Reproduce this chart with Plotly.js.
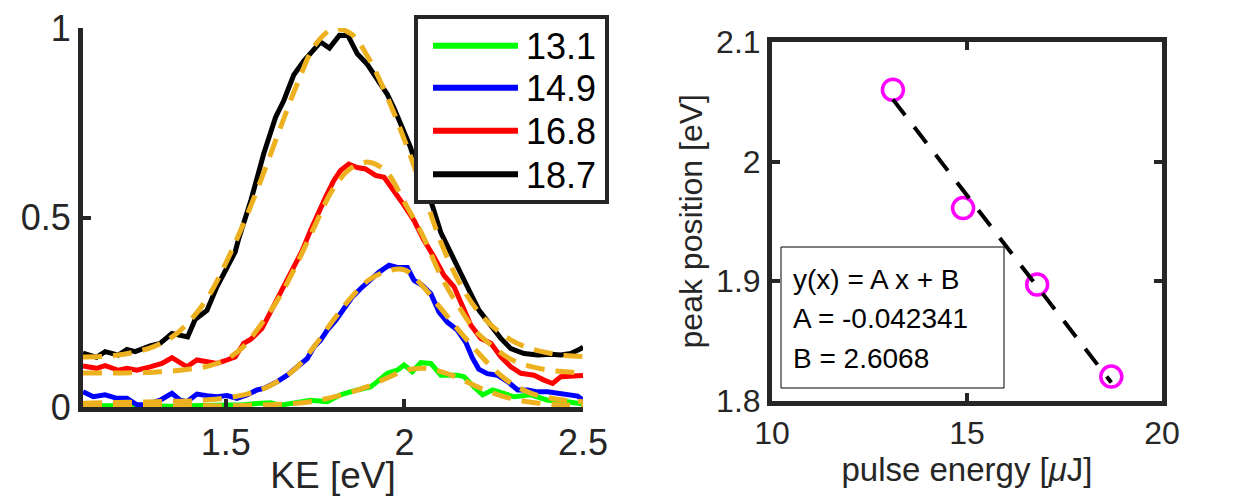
<!DOCTYPE html>
<html>
<head>
<meta charset="utf-8">
<script src="https://cdn.plot.ly/plotly-3.0.1.min.js"></script>
<style>html,body{margin:0;padding:0;background:#fff;}#chart{width:1247px;height:496px;}</style>
</head>
<body>
<div id="chart"></div>
<script>
// ---------------- data ----------------
const seriesLabels = ['13.1', '14.9', '16.8', '18.7'];

const keGreen = [1.100,1.150,1.200,1.250,1.300,1.350,1.400,1.450,1.500,1.550,1.597,1.625,1.653,1.690,1.737,1.784,1.821,1.868,1.905,1.924,1.952,1.980,1.999,2.022,2.046,2.074,2.102,2.148,2.167,2.195,2.219,2.247,2.279,2.307,2.354,2.401,2.457,2.485,2.500];
const sigGreen = [0.004,0.003,0.003,0.002,0.003,0.002,0.003,0.003,0.004,0.006,0.010,0.011,0.005,0.010,0.018,0.014,0.032,0.045,0.053,0.067,0.089,0.097,0.111,0.093,0.117,0.115,0.084,0.084,0.080,0.053,0.032,0.045,0.036,0.027,0.032,0.018,0.014,0.010,0.008];

const keBlue = [1.100,1.129,1.162,1.195,1.223,1.251,1.279,1.316,1.349,1.372,1.391,1.419,1.447,1.475,1.503,1.531,1.559,1.587,1.606,1.644,1.672,1.700,1.728,1.747,1.765,1.784,1.808,1.831,1.854,1.877,1.901,1.929,1.957,1.980,2.008,2.027,2.050,2.074,2.097,2.120,2.148,2.172,2.190,2.208,2.232,2.260,2.289,2.317,2.345,2.373,2.401,2.429,2.457,2.485,2.500];
const sigBlue = [0.040,0.027,0.032,0.023,0.023,0.006,0.006,0.018,0.036,0.018,0.014,0.034,0.030,0.027,0.030,0.023,0.032,0.045,0.049,0.067,0.084,0.106,0.128,0.159,0.176,0.203,0.229,0.260,0.290,0.312,0.334,0.356,0.374,0.368,0.368,0.334,0.321,0.299,0.250,0.224,0.203,0.170,0.130,0.100,0.088,0.084,0.067,0.045,0.045,0.040,0.040,0.036,0.032,0.029,0.018];

const keRed = [1.100,1.138,1.162,1.199,1.223,1.251,1.288,1.321,1.349,1.372,1.391,1.419,1.447,1.475,1.503,1.526,1.550,1.569,1.601,1.634,1.662,1.690,1.714,1.737,1.760,1.779,1.802,1.821,1.844,1.868,1.891,1.919,1.943,1.971,1.999,2.027,2.055,2.083,2.111,2.139,2.162,2.186,2.214,2.242,2.270,2.298,2.326,2.363,2.391,2.415,2.438,2.466,2.494,2.500];
const sigRed = [0.108,0.102,0.109,0.097,0.102,0.097,0.106,0.115,0.130,0.115,0.106,0.124,0.119,0.115,0.124,0.132,0.168,0.178,0.207,0.268,0.317,0.369,0.413,0.466,0.518,0.553,0.597,0.624,0.641,0.632,0.628,0.611,0.606,0.571,0.532,0.492,0.439,0.396,0.347,0.317,0.264,0.216,0.181,0.168,0.132,0.106,0.089,0.084,0.071,0.062,0.080,0.080,0.082,0.083];

const keBlack = [1.100,1.138,1.162,1.199,1.223,1.246,1.288,1.316,1.349,1.372,1.393,1.414,1.447,1.475,1.503,1.526,1.536,1.550,1.570,1.606,1.639,1.662,1.690,1.718,1.742,1.765,1.790,1.818,1.842,1.868,1.896,1.924,1.952,1.971,1.999,2.017,2.032,2.054,2.078,2.102,2.130,2.158,2.181,2.209,2.242,2.270,2.298,2.335,2.373,2.410,2.438,2.466,2.494,2.500];
const sigBlack = [0.142,0.131,0.146,0.137,0.152,0.146,0.161,0.168,0.194,0.191,0.185,0.231,0.255,0.317,0.369,0.409,0.444,0.483,0.545,0.668,0.764,0.808,0.876,0.913,0.939,0.963,0.947,0.981,0.980,0.932,0.904,0.862,0.825,0.788,0.729,0.685,0.641,0.588,0.532,0.460,0.404,0.352,0.308,0.255,0.216,0.181,0.154,0.141,0.137,0.139,0.137,0.141,0.154,0.158];

// fitted curves (dashed), read at a common KE grid
const keFit = [1.10,1.15,1.20,1.25,1.30,1.35,1.40,1.45,1.50,1.55,1.60,1.65,1.70,1.75,1.80,1.85,1.90,1.95,2.00,2.05,2.10,2.15,2.20,2.25,2.30,2.35,2.40,2.45,2.50];
const fitGreen = [0.003,0.003,0.003,0.003,0.003,0.003,0.003,0.003,0.003,0.004,0.005,0.007,0.010,0.016,0.026,0.039,0.055,0.076,0.096,0.102,0.094,0.077,0.055,0.036,0.022,0.013,0.008,0.005,0.004];
const fitBlue = [0.010,0.011,0.012,0.013,0.014,0.015,0.016,0.019,0.024,0.032,0.046,0.070,0.106,0.163,0.228,0.288,0.335,0.358,0.362,0.320,0.262,0.205,0.150,0.100,0.062,0.038,0.025,0.018,0.014];
const fitRed = [0.090,0.090,0.090,0.091,0.092,0.095,0.100,0.108,0.125,0.160,0.220,0.290,0.380,0.480,0.575,0.630,0.646,0.620,0.540,0.455,0.350,0.268,0.200,0.158,0.125,0.108,0.098,0.093,0.090];
const fitBlack = [0.132,0.133,0.137,0.146,0.160,0.185,0.228,0.290,0.380,0.485,0.603,0.730,0.853,0.955,0.997,0.985,0.920,0.822,0.705,0.575,0.440,0.335,0.260,0.210,0.176,0.155,0.143,0.136,0.133];

// right panel
const pulseEnergy = [13.1, 14.9, 16.8, 18.7];
const peakPosition = [2.060, 1.961, 1.897, 1.820];
const lineFitX = [13.1, 18.7];
const lineFitY = [2.052, 1.815];
const fitText = ['y(x) = A x + B', 'A = -0.042341', 'B = 2.6068'];

// ---------------- styling ----------------
const W = 1247, H = 496;
const px = v => v / W;
const py = v => 1 - v / H;
const FONT = 'Liberation Sans, Arial, Helvetica, sans-serif';
const AX = '#262626';
const GOLD = '#EDB120';
const seriesColors = ['#00FF00', '#0000FF', '#FF0000', '#000000'];

const dataSets = [[keGreen, sigGreen], [keBlue, sigBlue], [keRed, sigRed], [keBlack, sigBlack]];
const fitSets = [fitGreen, fitBlue, fitRed, fitBlack];

const traces = [];
dataSets.forEach((d, i) => {
  traces.push({x: d[0], y: d[1], type: 'scatter', mode: 'lines', name: seriesLabels[i],
    line: {color: seriesColors[i], width: 5}, xaxis: 'x', yaxis: 'y', showlegend: false, hoverinfo: 'skip'});
});
fitSets.forEach((f, i) => {
  traces.push({x: keFit, y: f, type: 'scatter', mode: 'lines', name: 'fit ' + seriesLabels[i],
    line: {color: GOLD, width: 5, dash: '19px,11px', shape: 'spline', smoothing: 1}, xaxis: 'x', yaxis: 'y', showlegend: false, hoverinfo: 'skip'});
});
traces.push({x: pulseEnergy, y: peakPosition, type: 'scatter', mode: 'markers', name: 'peak',
  marker: {symbol: 'circle-open', size: 21, color: '#FF00FF', line: {color: '#FF00FF', width: 3.5}},
  xaxis: 'x2', yaxis: 'y2', showlegend: false, cliponaxis: false});
traces.push({x: lineFitX, y: lineFitY, type: 'scatter', mode: 'lines', name: 'linear fit',
  line: {color: '#000000', width: 4, dash: '20px,15px'}, xaxis: 'x2', yaxis: 'y2', showlegend: false});

// legend drawn as shapes + text
const shapes = [];
const annotations = [];
shapes.push({type: 'rect', xref: 'paper', yref: 'paper', x0: px(416), x1: px(607), y0: py(202), y1: py(17),
  line: {color: AX, width: 4}, fillcolor: '#ffffff', layer: 'above'});
const legRows = [45.7, 87.7, 130.7, 174.3];
seriesLabels.forEach((lab, i) => {
  shapes.push({type: 'line', xref: 'paper', yref: 'paper', x0: px(433), x1: px(518), y0: py(legRows[i]), y1: py(legRows[i]),
    line: {color: seriesColors[i], width: 6}, layer: 'above'});
  annotations.push({xref: 'paper', yref: 'paper', x: px(524), y: py(legRows[i] + 1), xanchor: 'left', yanchor: 'middle',
    text: lab, showarrow: false, font: {family: FONT, size: 36, color: '#000000'}});
});
// fit text box
shapes.push({type: 'rect', xref: 'paper', yref: 'paper', x0: px(781), x1: px(1004), y0: py(388), y1: py(247),
  line: {color: '#000000', width: 1}, fillcolor: '#ffffff', layer: 'above'});
const boxRows = [279, 318, 358];
fitText.forEach((t, i) => {
  annotations.push({xref: 'paper', yref: 'paper', x: px(791), y: py(boxRows[i]), xanchor: 'left', yanchor: 'middle',
    text: t, showarrow: false, font: {family: FONT, size: 28, color: '#000000'}});
});

const axBase = {showgrid: false, zeroline: false, showline: true, linecolor: AX, linewidth: 5,
  ticks: 'inside', ticklen: 8, tickwidth: 4, tickcolor: AX};

const layout = {
  width: W, height: H,
  margin: {l: 0, r: 0, t: 0, b: 0},
  paper_bgcolor: '#ffffff', plot_bgcolor: '#ffffff',
  font: {family: FONT, color: AX},
  showlegend: false,
  xaxis: Object.assign({}, axBase, {domain: [px(83), px(583)], range: [1.1, 2.5], anchor: 'y',
    tickvals: [1.5, 2, 2.5], ticktext: ['1.5', '2', '2.5'], tickfont: {size: 36, color: AX},
    title: {text: 'KE [eV]', font: {size: 37, color: AX}, standoff: 4}}),
  yaxis: Object.assign({}, axBase, {domain: [py(407), py(28)], range: [0, 1], anchor: 'x',
    tickvals: [0, 0.5, 1], ticktext: ['0', '0.5', '1'], tickfont: {size: 36, color: AX}}),
  xaxis2: Object.assign({}, axBase, {domain: [px(772), px(1162)], range: [10, 20], anchor: 'y2', mirror: 'ticks',
    tickvals: [10, 15, 20], ticktext: ['10', '15', '20'], tickfont: {size: 32, color: AX},
    title: {text: 'pulse energy [<i>μ</i>J]', font: {size: 33, color: AX}, standoff: 2}}),
  yaxis2: Object.assign({}, axBase, {domain: [py(400.5), py(42)], range: [1.8, 2.1], anchor: 'x2', mirror: 'ticks',
    tickvals: [1.8, 1.9, 2, 2.1], ticktext: ['1.8', '1.9', '2', '2.1'], tickfont: {size: 32, color: AX},
    title: {text: 'peak position [eV]', font: {size: 32, color: AX}, standoff: 5}}),
  shapes: shapes,
  annotations: annotations
};

Plotly.newPlot('chart', traces, layout, {staticPlot: true, displayModeBar: false});
</script>
</body>
</html>
